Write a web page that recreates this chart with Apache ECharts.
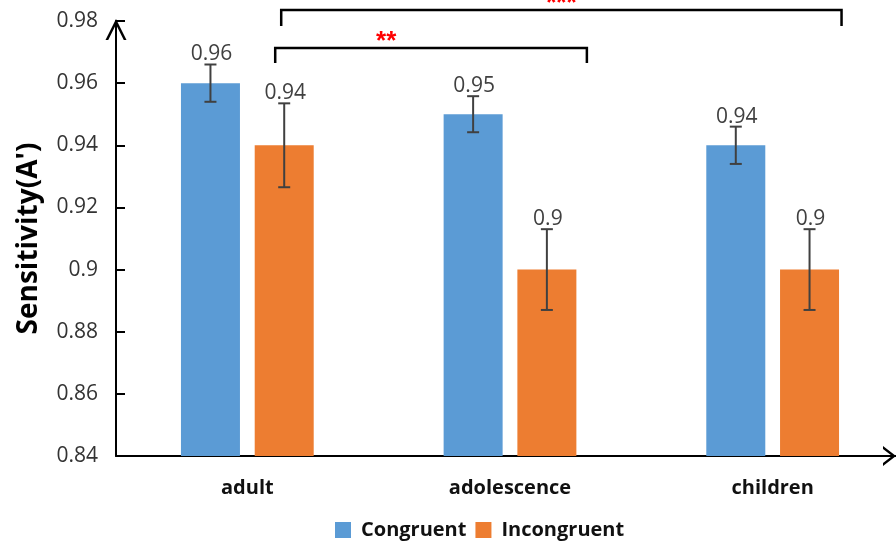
<!DOCTYPE html>
<html><head><meta charset="utf-8">
<script src="https://cdn.jsdelivr.net/npm/echarts@6/dist/echarts.min.js"></script>
<style>html,body{margin:0;padding:0;background:#fff}#c{width:896px;height:542px}</style>
</head><body><div id="c"></div>
<script>
// ---- data ----
const categories = ['adult', 'adolescence', 'children'];
const seriesNames = ['Congruent', 'Incongruent'];
const congruent = [0.96, 0.95, 0.94];
const incongruent = [0.94, 0.90, 0.90];
const congruentErr = [0.006, 0.0058, 0.006];
const incongruentErr = [0.0135, 0.013, 0.013];
const yMin = 0.84, yMax = 0.98, yStep = 0.02;
const sigLabels = ['**', '***'];
const sigFrom = [0, 0];
const sigTo = [1, 2];

// ---- style ----
const BLUE = '#5B9BD5', ORANGE = '#ED7D31', ERR = '#404040';
const BAR_W = 59, GAP_RATIO = 0.25;
const OFF = (BAR_W + BAR_W * GAP_RATIO) / 2;
const NUM_FONT = '"Open Sans", "Liberation Sans", sans-serif';

function fmt(v) { return String(parseFloat(v.toFixed(3))); }

function errRenderer(offset) {
  return function (params, api) {
    const c = api.value(0), v = api.value(1), e = api.value(2);
    const hi = api.coord([c, v + e]), lo = api.coord([c, v - e]);
    const x = hi[0] + offset, cw = 6;
    const st = { stroke: ERR, lineWidth: 2 };
    return { type: 'group', children: [
      { type: 'line', shape: { x1: x, y1: hi[1], x2: x, y2: lo[1] }, style: st },
      { type: 'line', shape: { x1: x - cw, y1: hi[1], x2: x + cw, y2: hi[1] }, style: st },
      { type: 'line', shape: { x1: x - cw, y1: lo[1], x2: x + cw, y2: lo[1] }, style: st },
      { type: 'text', x: x + 1, y: hi[1] - 10, style: { text: fmt(v), fill: '#404040',
        font: '21px ' + NUM_FONT, align: 'center', verticalAlign: 'middle' } }
    ] };
  };
}

const chart = echarts.init(document.getElementById('c'), null, { renderer: 'canvas' });
chart.setOption({
  animation: false,
  backgroundColor: '#fff',
  grid: { left: 116, width: 788, top: 21, height: 435, containLabel: false, outerBoundsMode: 'none' },
  legend: {
    data: seriesNames, left: 330, top: 515, itemWidth: 16, itemHeight: 16, itemGap: 9,
    icon: 'rect',
    textStyle: { fontFamily: NUM_FONT, fontWeight: 'bold', fontSize: 20, color: '#111', padding: [0, 0, 0, 5] }
  },
  xAxis: {
    type: 'category', data: categories,
    axisLine: { lineStyle: { color: '#000', width: 2 },
      symbol: ['none', 'path://M0,13 L10,0 L20,13 L17,13 L10,3.9 L3,13 Z'],
      symbolSize: [20, 13], symbolOffset: [0, -14.5] },
    axisTick: { inside: true, length: 8, lineStyle: { color: '#000', width: 2 } },
    axisLabel: { margin: 22, fontFamily: NUM_FONT, fontWeight: 'bold', fontSize: 20, color: '#111' },
    splitLine: { show: false }
  },
  yAxis: {
    type: 'value', min: yMin, max: yMax, interval: yStep,
    name: "Sensitivity(A')", nameLocation: 'middle', nameRotate: 90, nameGap: 73,
    nameTextStyle: { fontFamily: NUM_FONT, fontWeight: 'bold', fontSize: 28, color: '#000' },
    axisLine: { show: true, lineStyle: { color: '#000', width: 2 },
      symbol: ['none', 'path://M0,20 L10,0 L20,20 L17.4,20 L10,5.2 L2.6,20 Z'],
      symbolSize: [22, 21], symbolOffset: [0, -8.5] },
    axisTick: { show: true, inside: true, length: 9, lineStyle: { color: '#000', width: 2 } },
    axisLabel: { margin: 18, fontFamily: NUM_FONT, fontSize: 21, color: '#333', formatter: v => fmt(v) },
    splitLine: { show: false }
  },
  series: [
    { name: seriesNames[0], type: 'bar', data: congruent, barWidth: BAR_W, barGap: (GAP_RATIO * 100) + '%',
      itemStyle: { color: BLUE } },
    { name: seriesNames[1], type: 'bar', data: incongruent, barWidth: BAR_W, barGap: (GAP_RATIO * 100) + '%',
      itemStyle: { color: ORANGE } },
    { type: 'custom', renderItem: errRenderer(-OFF), encode: { x: 0, y: 1 }, z: 5,
      data: congruent.map((v, i) => [i, v, congruentErr[i]]) },
    { type: 'custom', renderItem: errRenderer(OFF), encode: { x: 0, y: 1 }, z: 5,
      data: incongruent.map((v, i) => [i, v, incongruentErr[i]]) }
  ]
});

// significance brackets (annotations) positioned from the category scale
function catX(i) { return chart.convertToPixel({ gridIndex: 0 }, [i, yMax])[0]; }
const gridTop = chart.convertToPixel({ gridIndex: 0 }, [0, yMax])[1];
const bracketLayout = [
  { l: -9, r: 40, top: 27, drop: 15, starDx: 111 },
  { l: -3, r: 32, top: -11, drop: 16, starDx: null }
];
const graphics = [];
sigLabels.forEach((lab, k) => {
  const L = bracketLayout[k];
  const x1 = catX(sigFrom[k]) + OFF + L.l, x2 = catX(sigTo[k]) + OFF + L.r;
  const y = gridTop + L.top;
  graphics.push({ type: 'polyline', shape: { points: [[x1, y + L.drop], [x1, y], [x2, y], [x2, y + L.drop]] },
    style: { stroke: '#000', lineWidth: 2.5, fill: null }, z: 10 });
  const sx = L.starDx == null ? (x1 + x2) / 2 : x1 + L.starDx;
  graphics.push({ type: 'text', x: sx, y: y - 6, style: { text: lab, fill: '#FF0000',
    font: 'bold 26px "Liberation Sans", sans-serif', align: 'center', verticalAlign: 'middle' }, z: 10 });
});
chart.setOption({ graphic: graphics });
</script></body></html>
